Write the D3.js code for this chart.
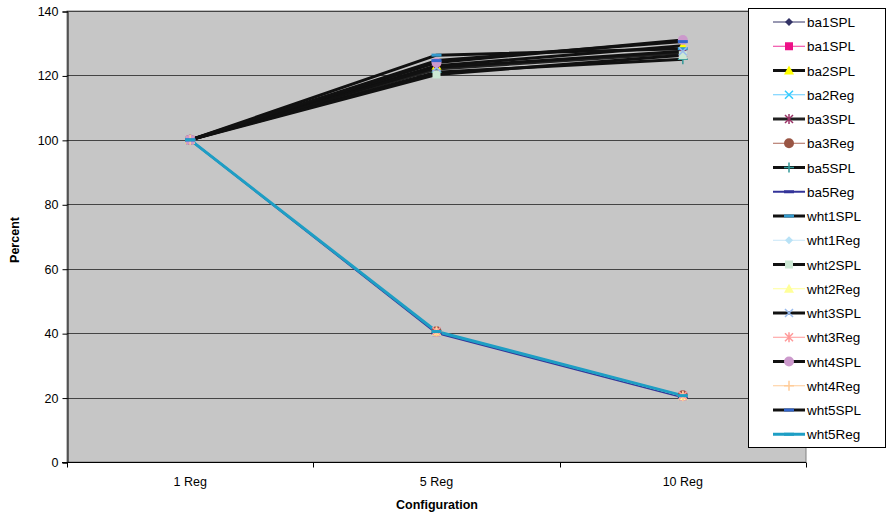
<!DOCTYPE html>
<html>
<head>
<meta charset="utf-8">
<script src="https://cdn.jsdelivr.net/npm/d3@7"></script>
<style>
  html, body { margin: 0; padding: 0; background: #fff; }
  svg text { font-family: "Liberation Sans", Arial, sans-serif; fill: #000; }
</style>
</head>
<body>
<svg id="chart" width="886" height="517"></svg>
<script>
// Categories along the x axis
const categories = ["1 Reg", "5 Reg", "10 Reg"];
const yTicks = [0, 20, 40, 60, 80, 100, 120, 140];

// Series names, in legend order
const seriesNames = ["ba1SPL", "ba1SPL", "ba2SPL", "ba2Reg", "ba3SPL", "ba3Reg", "ba5SPL", "ba5Reg",
  "wht1SPL", "wht1Reg", "wht2SPL", "wht2Reg", "wht3SPL", "wht3Reg", "wht4SPL", "wht4Reg", "wht5SPL", "wht5Reg"];

// Percent values per series at 1 Reg, 5 Reg, 10 Reg
const ba1a   = [100, 40.5, 20.6];
const ba1b   = [100, 40.3, 20.4];
const ba2SPL = [100, 123.0, 129.2];
const ba2Reg = [100, 40.4, 20.5];
const ba3SPL = [100, 122.0, 127.0];
const ba3Reg = [100, 40.6, 20.7];
const ba5SPL = [100, 121.0, 125.0];
const ba5Reg = [100, 40.0, 20.1];
const wht1SPL = [100, 126.3, 128.3];
const wht1Reg = [100, 40.5, 20.5];
const wht2SPL = [100, 120.3, 126.3];
const wht2Reg = [100, 40.4, 20.4];
const wht3SPL = [100, 122.5, 127.5];
const wht3Reg = [100, 40.6, 20.6];
const wht4SPL = [100, 124.0, 131.0];
const wht4Reg = [100, 40.5, 20.4];
const wht5SPL = [100, 124.6, 130.5];
const wht5Reg = [100, 40.5, 20.6];

const seriesValues = [ba1a, ba1b, ba2SPL, ba2Reg, ba3SPL, ba3Reg, ba5SPL, ba5Reg,
  wht1SPL, wht1Reg, wht2SPL, wht2Reg, wht3SPL, wht3Reg, wht4SPL, wht4Reg, wht5SPL, wht5Reg];

// Line colour, line width, marker shape, marker colour
const lineColors = ["#333366", "#ee3399", "#111111", "#66ccff", "#222222", "#aa6655", "#111111", "#333399",
  "#111111", "#c8e6f8", "#111111", "#ffff99", "#111111", "#ff9999", "#111111", "#ffcc99", "#111111", "#1e9ec4"];
const lineWidths = [1, 1, 3, 1, 3, 1, 3, 2, 3, 1, 3, 1, 3, 1, 3, 1, 3, 3];
const markerShapes = ["diamond", "square", "triangle", "x", "star", "circle", "plus", "dash",
  "dash", "diamond", "square", "triangle", "x", "star", "circle", "plus", "dash", "dash"];
const markerColors = ["#333366", "#ee1188", "#ffff00", "#33ccff", "#993366", "#995544", "#339999", "#333399",
  "#3399cc", "#b8e2f6", "#cce8d4", "#ffff99", "#99bbee", "#ff9999", "#cc99cc", "#ffcc99", "#3366cc", "#1e9ec4"];

const svg = d3.select("#chart");
const plot = { left: 67, right: 806, top: 11, bottom: 462 };

const x = d3.scaleBand().domain(categories).range([plot.left, plot.right]);
const y = d3.scaleLinear().domain([0, 140]).range([plot.bottom, plot.top]);

// Plot area background
svg.append("rect")
  .attr("x", plot.left).attr("y", plot.top)
  .attr("width", plot.right - plot.left).attr("height", plot.bottom - plot.top)
  .attr("fill", "#c6c6c6").attr("stroke", "#808080").attr("stroke-width", 1);

// Horizontal gridlines
svg.append("g").selectAll("line").data(yTicks.filter(d => d > 0)).join("line")
  .attr("x1", plot.left).attr("x2", plot.right)
  .attr("y1", d => Math.round(y(d)) + 0.5).attr("y2", d => Math.round(y(d)) + 0.5)
  .attr("stroke", "#444").attr("stroke-width", 1);

// Y axis
const yAxis = svg.append("g").attr("transform", `translate(${plot.left + 0.5},0.5)`)
  .call(d3.axisLeft(y).tickValues(yTicks).tickSize(5).tickPadding(4));
yAxis.select(".domain").attr("stroke", "#000");
yAxis.selectAll(".tick line").attr("stroke", "#000");
yAxis.selectAll("text").attr("font-size", 12.5).attr("font-family", "Liberation Sans, Arial, sans-serif");

// X axis with ticks between categories
const xAxisG = svg.append("g").attr("transform", `translate(0,${plot.bottom + 0.5})`);
xAxisG.append("line").attr("x1", plot.left - 5).attr("x2", plot.right)
  .attr("stroke", "#000");
const boundaries = categories.map(c => x(c)).concat([x(categories[categories.length - 1]) + x.bandwidth()]);
xAxisG.selectAll("line.tk").data(boundaries).join("line").attr("class", "tk")
  .attr("x1", d => Math.round(d) + 0.5).attr("x2", d => Math.round(d) + 0.5)
  .attr("y1", 0).attr("y2", 5).attr("stroke", "#000");
xAxisG.selectAll("text").data(categories).join("text")
  .attr("x", d => x(d) + x.bandwidth() / 2).attr("y", 23)
  .attr("text-anchor", "middle").attr("font-size", 12.5).text(d => d);

// Axis titles
svg.append("text").attr("x", 437).attr("y", 509).attr("text-anchor", "middle")
  .attr("font-size", 12.5).attr("font-weight", "bold").text("Configuration");
svg.append("text").attr("transform", "translate(19,240) rotate(-90)").attr("text-anchor", "middle")
  .attr("font-size", 12.5).attr("font-weight", "bold").text("Percent");

// Marker drawing
function drawMarker(g, shape, color) {
  const s = 4;
  if (shape === "diamond") {
    g.append("path").attr("d", `M0,${-s}L${s},0L0,${s}L${-s},0Z`).attr("fill", color);
  } else if (shape === "square") {
    g.append("rect").attr("x", -s).attr("y", -s).attr("width", 2 * s).attr("height", 2 * s).attr("fill", color);
  } else if (shape === "triangle") {
    g.append("path").attr("d", `M0,${-s - 1}L${s + 1},${s}L${-s - 1},${s}Z`).attr("fill", color);
  } else if (shape === "x") {
    g.append("path").attr("d", `M${-s},${-s}L${s},${s}M${-s},${s}L${s},${-s}`)
      .attr("stroke", color).attr("stroke-width", 1.5).attr("fill", "none");
  } else if (shape === "star") {
    g.append("path").attr("d", `M${-s},${-s}L${s},${s}M${-s},${s}L${s},${-s}M0,${-s - 1}L0,${s + 1}`)
      .attr("stroke", color).attr("stroke-width", 1.5).attr("fill", "none");
  } else if (shape === "circle") {
    g.append("circle").attr("r", s + 1).attr("fill", color);
  } else if (shape === "plus") {
    g.append("path").attr("d", `M${-s - 1},0L${s + 1},0M0,${-s - 1}L0,${s + 1}`)
      .attr("stroke", color).attr("stroke-width", 1.5).attr("fill", "none");
  } else if (shape === "dash") {
    g.append("rect").attr("x", -s - 1).attr("y", -1.5).attr("width", 2 * s + 2).attr("height", 3).attr("fill", color);
  }
}

// Series lines and markers
const line = d3.line().x((d, i) => x(categories[i]) + x.bandwidth() / 2).y(d => y(d));
const seriesG = svg.append("g");
seriesValues.forEach((vals, k) => {
  seriesG.append("path").datum(vals).attr("d", line)
    .attr("fill", "none").attr("stroke", lineColors[k]).attr("stroke-width", lineWidths[k])
    .attr("stroke-linejoin", "round");
});
seriesValues.forEach((vals, k) => {
  vals.forEach((v, i) => {
    const g = seriesG.append("g")
      .attr("transform", `translate(${x(categories[i]) + x.bandwidth() / 2},${y(v)})`);
    drawMarker(g, markerShapes[k], markerColors[k]);
  });
});

// Legend
const legend = svg.append("g");
legend.append("rect").attr("x", 748.5).attr("y", 8.5).attr("width", 137).attr("height", 439)
  .attr("fill", "#fff").attr("stroke", "#000").attr("stroke-width", 1);
seriesNames.forEach((name, k) => {
  const cy = 22 + k * 24.25;
  const row = legend.append("g").attr("transform", `translate(0,${cy})`);
  row.append("line").attr("x1", 773).attr("x2", 805).attr("y1", 0).attr("y2", 0)
    .attr("stroke", lineColors[k]).attr("stroke-width", lineWidths[k]);
  const mg = row.append("g").attr("transform", "translate(789,0)");
  drawMarker(mg, markerShapes[k], markerColors[k]);
  row.append("text").attr("x", 807).attr("y", 5).attr("font-size", 13.5).text(name);
});
</script>
</body>
</html>
